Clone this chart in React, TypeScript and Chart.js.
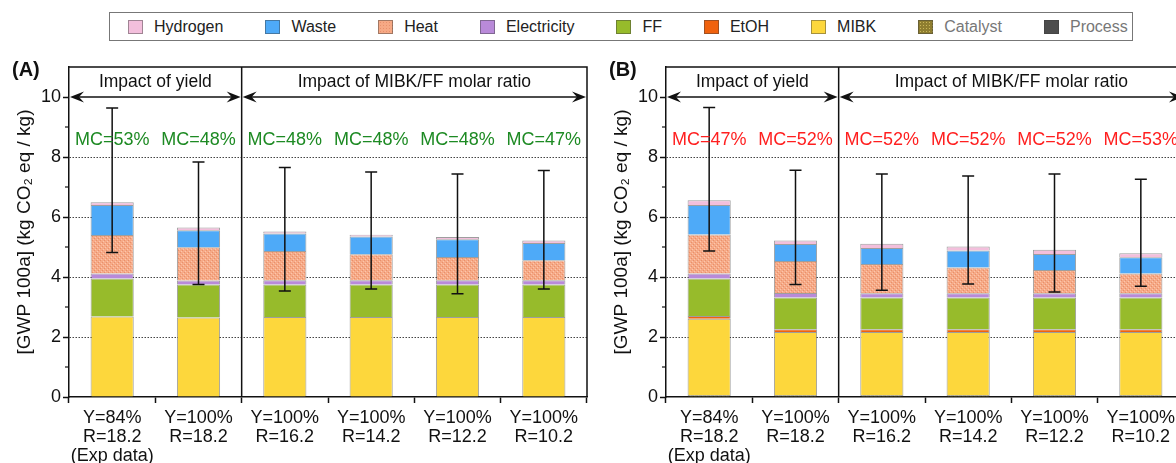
import React, { useEffect, useRef } from "react";
import { Chart, registerables } from "chart.js";

Chart.register(...registerables);

const FONT = "'Liberation Sans', Arial, Helvetica, sans-serif";

// ---------- data ----------
const categories = [
  ["Y=84%", "R=18.2", "(Exp data)"],
  ["Y=100%", "R=18.2"],
  ["Y=100%", "R=16.2"],
  ["Y=100%", "R=14.2"],
  ["Y=100%", "R=12.2"],
  ["Y=100%", "R=10.2"],
];

const seriesNames = ["Process", "Catalyst", "MIBK", "EtOH", "FF", "Electricity", "Heat", "Waste", "Hydrogen"];
const legendOrder = ["Hydrogen", "Waste", "Heat", "Electricity", "FF", "EtOH", "MIBK", "Catalyst", "Process"];

// Panel A
const processA = [0, 0, 0, 0, 0, 0];
const catalystA = [0, 0, 0, 0, 0, 0];
const mibkA = [2.68, 2.65, 2.67, 2.67, 2.67, 2.67];
const etohA = [0, 0, 0, 0, 0, 0];
const ffA = [1.27, 1.1, 1.08, 1.08, 1.08, 1.08];
const elecA = [0.17, 0.13, 0.14, 0.14, 0.14, 0.14];
const heatA = [1.28, 1.11, 0.98, 0.87, 0.78, 0.67];
const wasteA = [1.0, 0.57, 0.58, 0.59, 0.59, 0.57];
const h2A = [0.09, 0.09, 0.07, 0.06, 0.07, 0.09];
const errLowA = [4.82, 3.75, 3.53, 3.6, 3.44, 3.6];
const errHighA = [9.63, 7.83, 7.65, 7.5, 7.43, 7.55];
const mcA = ["MC=53%", "MC=48%", "MC=48%", "MC=48%", "MC=48%", "MC=47%"];

// Panel B
const processB = [0, 0, 0, 0, 0, 0];
const catalystB = [0.07, 0.07, 0.07, 0.07, 0.07, 0.07];
const mibkB = [2.54, 2.1, 2.1, 2.1, 2.1, 2.1];
const etohB = [0.09, 0.09, 0.09, 0.09, 0.09, 0.09];
const ffB = [1.25, 1.06, 1.06, 1.06, 1.06, 1.06];
const elecB = [0.17, 0.15, 0.14, 0.14, 0.14, 0.14];
const heatB = [1.3, 1.06, 0.97, 0.86, 0.77, 0.66];
const wasteB = [0.98, 0.57, 0.54, 0.56, 0.54, 0.54];
const h2B = [0.16, 0.12, 0.14, 0.14, 0.14, 0.13];
const errLowB = [4.87, 3.75, 3.56, 3.77, 3.5, 3.69];
const errHighB = [9.65, 7.56, 7.43, 7.37, 7.43, 7.26];
const mcB = ["MC=47%", "MC=52%", "MC=52%", "MC=52%", "MC=52%", "MC=53%"];

const yTicksMajor = [0, 2, 4, 6, 8, 10];
const gridValues = [2, 4, 6, 8];
const minorTicks = [1, 3, 5, 7, 9];
const arrowValue = 10;
const yMax = 11;
const sectionLabels = ["Impact of yield", "Impact of MIBK/FF molar ratio"];
const yTitle = "[GWP 100a] (kg CO\u2082 eq / kg)";

// ---------- styles ----------
const solidColors: Record<string, string> = {
  Hydrogen: "#f3bfdc",
  Waste: "#4eaaf8",
  Heat: "#f6a985",
  Electricity: "#b98ad9",
  FF: "#97bb2b",
  EtOH: "#f0620e",
  MIBK: "#fdd73c",
  Catalyst: "#8f7e30",
  Process: "#4d4d4d",
};

function makePattern(base: string, dark: string, light: string) {
  const c = document.createElement("canvas");
  c.width = 4;
  c.height = 4;
  const g = c.getContext("2d")!;
  g.fillStyle = base;
  g.fillRect(0, 0, 4, 4);
  g.fillStyle = dark;
  g.fillRect(0, 0, 1, 1);
  g.fillRect(2, 2, 1, 1);
  g.fillStyle = light;
  g.fillRect(1, 3, 1, 1);
  g.fillRect(3, 1, 1, 1);
  return g.createPattern(c, "repeat")!;
}

function drawHead(ctx: CanvasRenderingContext2D, x: number, y: number, dir: number) {
  ctx.beginPath();
  ctx.moveTo(x, y);
  ctx.lineTo(x + dir * 14, y - 5.5);
  ctx.lineTo(x + dir * 9, y);
  ctx.lineTo(x + dir * 14, y + 5.5);
  ctx.closePath();
  ctx.fill();
}

function drawArrow(ctx: CanvasRenderingContext2D, x1: number, x2: number, y: number) {
  ctx.beginPath();
  ctx.moveTo(x1 + 8, y);
  ctx.lineTo(x2 - 8, y);
  ctx.stroke();
  drawHead(ctx, x1, y, 1);
  drawHead(ctx, x2, y, -1);
}

function makeConfig(
  letter: string,
  values: number[][],
  errLow: number[],
  errHigh: number[],
  mc: string[],
  mcColor: string,
  patterns: Record<string, any>
): any {
  const datasets = seriesNames.map((name, k) => ({
    label: name,
    data: values[k],
    backgroundColor: patterns[name] || solidColors[name],
    borderColor: "rgba(40,40,40,0.45)",
    borderWidth: 1,
    barPercentage: 0.5,
    categoryPercentage: 1,
    stack: "s",
  }));

  const annot = {
    id: "annot" + letter,
    afterDatasetsDraw(chart: any) {
      const { ctx, scales } = chart;
      const x = scales.x;
      const y = scales.y;
      ctx.save();
      ctx.strokeStyle = "#111";
      ctx.lineWidth = 1.5;
      for (let i = 0; i < errLow.length; i++) {
        const cx = x.getPixelForValue(i);
        const y1 = y.getPixelForValue(errLow[i]);
        const y2 = y.getPixelForValue(errHigh[i]);
        ctx.beginPath();
        ctx.moveTo(cx, y1);
        ctx.lineTo(cx, y2);
        ctx.moveTo(cx - 6, y1);
        ctx.lineTo(cx + 6, y1);
        ctx.moveTo(cx - 6, y2);
        ctx.lineTo(cx + 6, y2);
        ctx.stroke();
      }
      ctx.restore();
    },
    afterDraw(chart: any) {
      const { ctx, chartArea: ca, scales } = chart;
      const x = scales.x;
      const y = scales.y;
      ctx.save();
      ctx.strokeStyle = "#111";
      ctx.fillStyle = "#111";
      ctx.lineWidth = 1.5;
      // box top & right
      ctx.beginPath();
      ctx.moveTo(ca.left, ca.top);
      ctx.lineTo(ca.right, ca.top);
      ctx.lineTo(ca.right, ca.bottom);
      ctx.stroke();
      // divider
      const div = (x.getPixelForValue(1) + x.getPixelForValue(2)) / 2;
      ctx.beginPath();
      ctx.moveTo(div, ca.top);
      ctx.lineTo(div, ca.bottom);
      ctx.stroke();
      // minor ticks
      ctx.lineWidth = 1.2;
      for (const v of minorTicks) {
        const py = y.getPixelForValue(v);
        ctx.beginPath();
        ctx.moveTo(ca.left - 4, py);
        ctx.lineTo(ca.left, py);
        ctx.stroke();
      }
      // arrows
      ctx.lineWidth = 1.5;
      const ay = y.getPixelForValue(arrowValue);
      drawArrow(ctx, ca.left + 1, div - 1, ay);
      drawArrow(ctx, div + 1, ca.right - 1, ay);
      // section labels
      ctx.font = `17.5px ${FONT}`;
      ctx.textAlign = "center";
      ctx.textBaseline = "middle";
      const ty = y.getPixelForValue(10.5);
      ctx.fillText(sectionLabels[0], (ca.left + div) / 2, ty);
      ctx.fillText(sectionLabels[1], (div + ca.right) / 2, ty);
      // MC labels
      ctx.font = `18px ${FONT}`;
      ctx.fillStyle = mcColor;
      const my = y.getPixelForValue(8.55);
      for (let i = 0; i < mc.length; i++) {
        ctx.fillText(mc[i], x.getPixelForValue(i), my);
      }
      // panel letter
      ctx.fillStyle = "#111";
      ctx.textAlign = "left";
      ctx.textBaseline = "alphabetic";
      ctx.font = `bold 20px ${FONT}`;
      ctx.fillText(`(${letter})`, 12, 76);
      ctx.restore();
    },
  };

  return {
    type: "bar",
    data: { labels: categories, datasets },
    options: {
      responsive: false,
      animation: false,
      devicePixelRatio: 1,
      layout: { padding: { top: 67, right: 13, bottom: 0, left: 0 } },
      plugins: { legend: { display: false }, tooltip: { enabled: false } },
      scales: {
        x: {
          stacked: true,
          offset: true,
          grid: {
            offset: true,
            drawOnChartArea: false,
            tickLength: 6,
            tickColor: "#111",
            tickWidth: 1.5,
            color: "#111",
          },
          border: { display: true, color: "#111", width: 1.5 },
          ticks: {
            color: "#111",
            font: { size: 18, family: FONT, lineHeight: 1.05 },
            padding: 6,
            maxRotation: 0,
            autoSkip: false,
          },
          afterFit: (s: any) => {
            s.height = 66;
          },
        },
        y: {
          stacked: true,
          min: 0,
          max: yMax,
          ticks: {
            stepSize: 1,
            color: "#111",
            font: { size: 18, family: FONT },
            padding: 2,
            callback: (v: number) => (yTicksMajor.includes(v) ? String(v) : ""),
          },
          grid: {
            color: (c: any) => (c.tick && gridValues.includes(c.tick.value) ? "#444" : "rgba(0,0,0,0)"),
            tickColor: (c: any) => (c.tick && yTicksMajor.includes(c.tick.value) ? "#111" : "rgba(0,0,0,0)"),
            lineWidth: 1,
            tickLength: 6,
            tickWidth: 1.5,
          },
          border: { display: true, color: "#111", width: 1.5, dash: [1.5, 1.5] },
          title: {
            display: true,
            text: yTitle,
            color: "#111",
            font: { size: 19, family: FONT },
            padding: { top: 13, bottom: 0 },
          },
          afterFit: (s: any) => {
            s.width = 69;
          },
        },
      },
    },
    plugins: [annot],
  };
}

const legendSwatchStyle = (name: string): React.CSSProperties => {
  const base: React.CSSProperties = {
    width: 15,
    height: 14,
    boxSizing: "border-box",
    border: "1px solid rgba(60,60,60,0.45)",
    background: solidColors[name],
    marginRight: 11,
    flex: "0 0 auto",
  };
  if (name === "Heat") {
    base.backgroundImage = "radial-gradient(#e8906c 0.6px, transparent 0.8px)";
    base.backgroundSize = "3px 3px";
  }
  if (name === "Catalyst") {
    base.backgroundImage = "radial-gradient(#c9b65a 0.6px, transparent 0.8px)";
    base.backgroundSize = "3px 3px";
  }
  return base;
};

export default function App() {
  const refA = useRef<HTMLCanvasElement>(null);
  const refB = useRef<HTMLCanvasElement>(null);

  useEffect(() => {
    Chart.defaults.font.family = FONT;
    const patterns = {
      Heat: makePattern("#f6aa87", "#e98f6a", "#fbc6ad"),
      Catalyst: makePattern("#93822f", "#5f511b", "#c6b356"),
    };
    const valuesA = [processA, catalystA, mibkA, etohA, ffA, elecA, heatA, wasteA, h2A];
    const valuesB = [processB, catalystB, mibkB, etohB, ffB, elecB, heatB, wasteB, h2B];
    const a = new Chart(refA.current!, makeConfig("A", valuesA, errLowA, errHighA, mcA, "#1d8a23", patterns));
    const b = new Chart(refB.current!, makeConfig("B", valuesB, errLowB, errHighB, mcB, "#ff1f1f", patterns));
    return () => {
      a.destroy();
      b.destroy();
    };
  }, []);

  return (
    <div
      style={{
        position: "absolute",
        left: 0,
        top: 0,
        width: 1176,
        height: 463,
        overflow: "hidden",
        background: "#fff",
        fontFamily: FONT,
      }}
    >
      <div style={{ position: "absolute", left: 0, top: 0, width: 600, height: 463 }}>
        <canvas ref={refA} width={600} height={463} style={{ width: 600, height: 463, display: "block" }} />
      </div>
      <div style={{ position: "absolute", left: 597, top: 0, width: 600, height: 463 }}>
        <canvas ref={refB} width={600} height={463} style={{ width: 600, height: 463, display: "block" }} />
      </div>
      <div
        style={{
          position: "absolute",
          left: 109,
          top: 12,
          height: 29,
          boxSizing: "border-box",
          border: "1px solid #777",
          background: "#fff",
          display: "flex",
          alignItems: "center",
          paddingLeft: 18,
          paddingRight: 4,
          fontSize: 16,
          whiteSpace: "nowrap",
        }}
      >
        {legendOrder.map((name, i) => (
          <div
            key={name}
            style={{
              display: "flex",
              alignItems: "center",
              marginRight: i === legendOrder.length - 1 ? 0 : 42,
              color: name === "Catalyst" || name === "Process" ? "#777" : "#222",
            }}
          >
            <div style={legendSwatchStyle(name)} />
            <span>{name}</span>
          </div>
        ))}
      </div>
    </div>
  );
}
